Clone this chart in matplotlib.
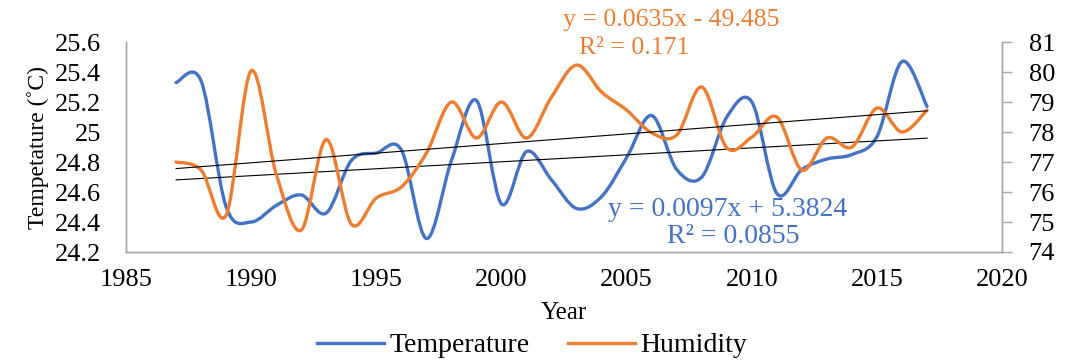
import numpy as np
import matplotlib
matplotlib.use("Agg")
import matplotlib.pyplot as plt
from matplotlib.path import Path
from matplotlib.patches import PathPatch
from matplotlib.lines import Line2D
from matplotlib.ticker import FuncFormatter

plt.rcParams['font.family'] = ['Liberation Serif', 'DejaVu Serif']

years = list(range(1987, 2018))
temperature = [25.33, 25.34, 24.50, 24.40, 24.51, 24.58, 24.46, 24.81, 24.86, 24.88,
               24.29, 24.81, 25.21, 24.52, 24.87, 24.68, 24.49, 24.57, 24.83, 25.11,
               24.75, 24.70, 25.10, 25.20, 24.59, 24.75, 24.82, 24.85, 24.97, 25.47, 25.17]
humidity = [77.0, 76.73, 75.23, 80.04, 76.6, 74.73, 77.75, 74.93, 75.8, 76.17,
            77.3, 79.0, 77.8, 79.0, 77.8, 79.17, 80.23, 79.33, 78.73, 77.97,
            77.9, 79.5, 77.47, 77.83, 78.5, 76.73, 77.8, 77.5, 78.8, 78.0, 78.73]

blue = '#4472C4'
orange = '#ED7D31'


def smooth_path(x, y):
    # Excel-like smoothed line: Catmull-Rom segments as cubic Bezier curves
    pts = np.column_stack([x, y]).astype(float)
    n = len(pts)
    verts = [pts[0]]
    codes = [Path.MOVETO]
    for i in range(n - 1):
        p0 = pts[max(i - 1, 0)]
        p1 = pts[i]
        p2 = pts[i + 1]
        p3 = pts[min(i + 2, n - 1)]
        c1 = p1 + (p2 - p0) / 6.0
        c2 = p2 - (p3 - p1) / 6.0
        verts += [c1, c2, p2]
        codes += [Path.CURVE4] * 3
    return Path(verts, codes)


fig = plt.figure(figsize=(10.79, 3.6), dpi=100)
ax = fig.add_axes([0.1168, 0.30, 0.812, 0.5833])
ax2 = ax.twinx()

ax.set_xlim(1985, 2020)
ax.set_ylim(24.2, 25.6)
ax2.set_ylim(74, 81)

ax.add_patch(PathPatch(smooth_path(years, temperature), fill=False,
                       edgecolor=blue, lw=2.4, zorder=3, capstyle='round'))
ax2.add_patch(PathPatch(smooth_path(years, humidity), fill=False,
                        edgecolor=orange, lw=2.4, zorder=3, capstyle='round'))

# linear trend lines
yr = np.array(years)
kt = np.polyfit(yr, temperature, 1)
kh = np.polyfit(yr, humidity, 1)
ax.plot(yr, np.polyval(kt, yr), color='black', lw=0.8, zorder=4)
ax2.plot(yr, np.polyval(kh, yr), color='black', lw=0.8, zorder=4)

for a in (ax, ax2):
    a.spines['top'].set_visible(False)
    for s in ('left', 'right', 'bottom'):
        a.spines[s].set_color('#A6A6A6')
        a.spines[s].set_linewidth(1.0)

ax.set_xticks(range(1985, 2021, 5))
ax.set_yticks(np.arange(24.2, 25.61, 0.2))
ax.yaxis.set_major_formatter(FuncFormatter(lambda v, p: '%g' % round(v, 1)))
ax2.set_yticks(range(74, 82))
ax.tick_params(axis='x', length=0, pad=12, labelsize=19)
ax.tick_params(axis='y', length=0, pad=18, labelsize=19)
ax2.tick_params(axis='y', which='major', direction='out', length=7, width=1,
                color='#A6A6A6', pad=12, labelsize=19)

ax.set_xlabel('Year', fontsize=18, labelpad=8)
ax.set_ylabel('Tempetature (˚C)', fontsize=17, labelpad=4)

fig.text(0.622, 0.945, 'y = 0.0635x - 49.485', color=orange, fontsize=18.5, ha='center', va='center')
fig.text(0.588, 0.866, 'R² = 0.171', color=orange, fontsize=18.5, ha='center', va='center')
fig.text(0.674, 0.417, 'y = 0.0097x + 5.3824', color=blue, fontsize=20, ha='center', va='center')
fig.text(0.680, 0.342, 'R² = 0.0855', color=blue, fontsize=20, ha='center', va='center')

handles = [Line2D([], [], color=blue, lw=2.4), Line2D([], [], color=orange, lw=2.4)]
fig.legend(handles, ['Temperature', 'Humidity'], loc='center', bbox_to_anchor=(0.493, 0.040),
           ncol=2, frameon=False, fontsize=20, handlelength=2.4, columnspacing=1.4,
           handletextpad=0.2)

fig.savefig('out.png', dpi=100)
